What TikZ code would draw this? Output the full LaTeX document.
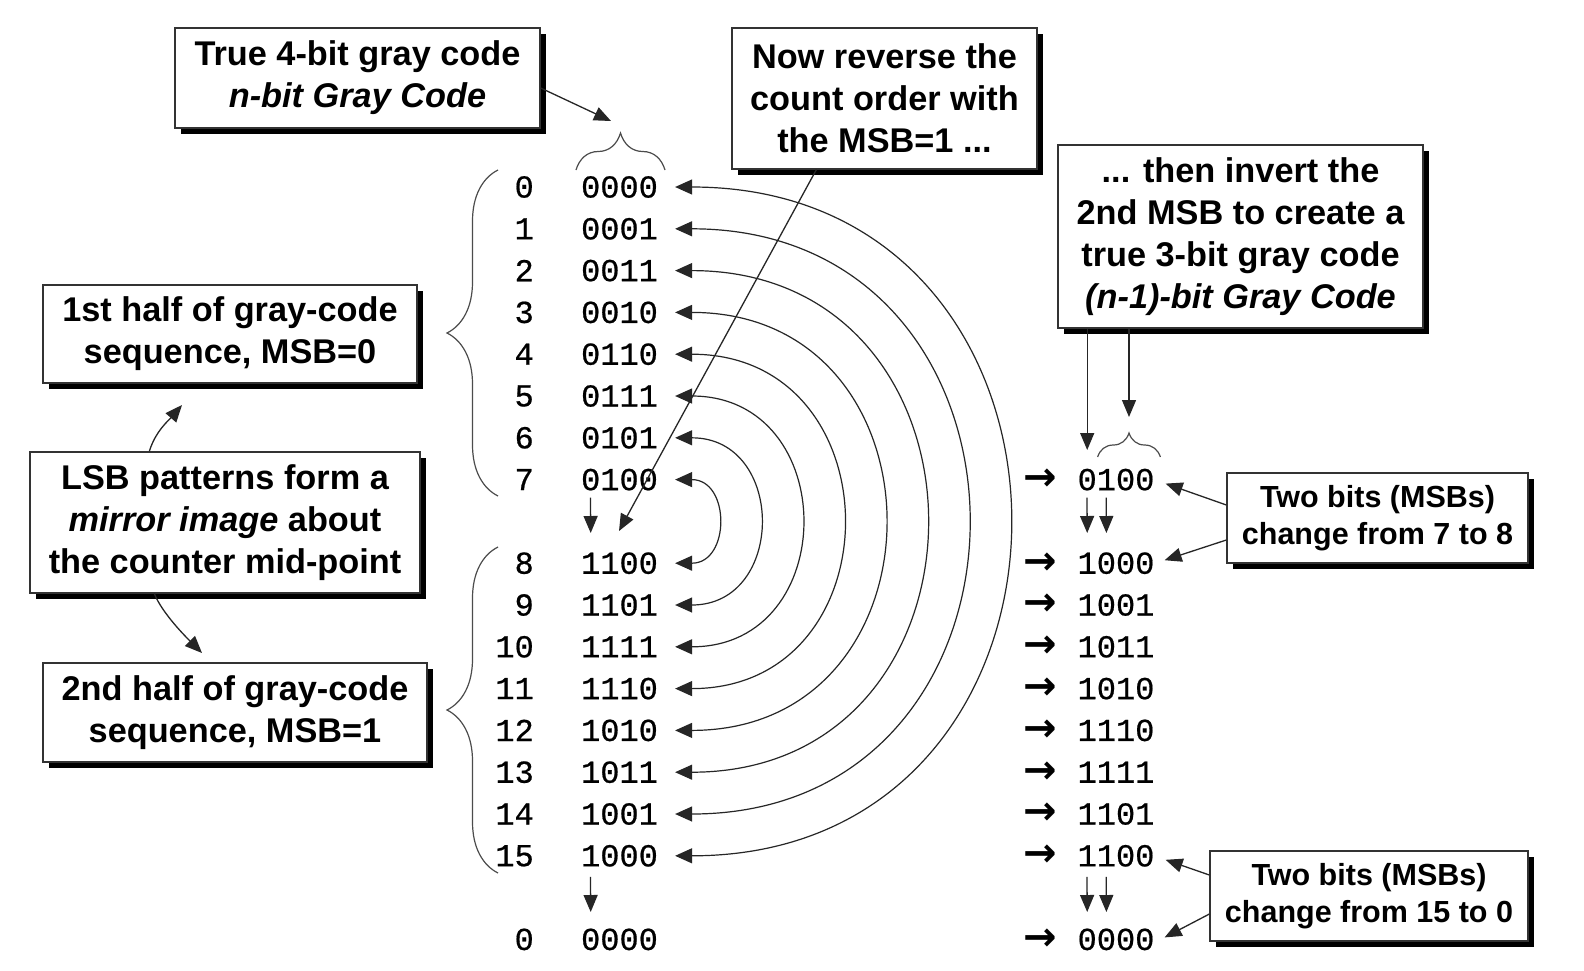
\documentclass[tikz,border=0pt]{standalone}
\usepackage{fontspec}
\setmainfont{Liberation Sans}
\newfontfamily\codefamily{Liberation Mono}[FakeBold=0.6]
\newfontfamily\symfamily{DejaVu Sans}
\usetikzlibrary{arrows.meta,decorations.pathreplacing,shadows,calc}
\newcommand\notefnt{\fontsize{34.3}{42}\selectfont\bfseries}
\newcommand\smallnotefnt{\fontsize{30.5}{37}\selectfont\bfseries}
\newcommand\codefnt{\fontsize{32}{38}\codefamily}
\newcommand\symfnt{\fontsize{40}{44}\symfamily\bfseries}
\begin{document}
\begin{tikzpicture}[x=1pt,y=-1pt,
  note/.style={draw=black!80, line width=1.3pt, fill=white, align=center, inner sep=0pt,
    font=\notefnt, text=black,
    drop shadow={shadow xshift=6pt, shadow yshift=-6pt, fill=black, opacity=1}},
  smallnote/.style={note, font=\smallnotefnt},
  code/.style={font=\codefnt, inner sep=0pt, text=black},
  idx/.style={font=\codefnt, inner sep=0pt, anchor=east, text=black},
  sym/.style={font=\symfnt, inner sep=0pt, text=black},
  arr/.style={draw=black!85, line width=1.3pt, -{Triangle[length=17pt,width=14pt]}},
  dbl/.style={draw=black!85, line width=1.2pt, {Triangle[length=17pt,width=15pt]}-{Triangle[length=17pt,width=15pt]}},
  brc/.style={draw=black!70, line width=1.2pt, decorate}
]
\fill[white] (0,0) rectangle (1584,970);
\useasboundingbox (0,0) rectangle (1584,970);

% ---- notes
\node[note, minimum width=365pt, minimum height=100pt] (tb) at (357.5,78)
  {True 4-bit gray code\\\textit{n-bit Gray Code}};
\node[note, minimum width=305pt, minimum height=141pt] (nr) at (884.5,98.5)
  {Now reverse the\\count order with\\the MSB=1 ...};
\node[note, minimum width=365pt, minimum height=183pt] (inv) at (1240.5,236.5)
  {... then invert the\\2nd MSB to create a\\true 3-bit gray code\\\textit{(n-1)-bit Gray Code}};
\node[note, minimum width=374pt, minimum height=98pt] (h1) at (230,334)
  {1st half of gray-code\\sequence, MSB=0};
\node[note, minimum width=390pt, minimum height=141pt] (lsb) at (225,522.5)
  {LSB patterns form a\\\textit{mirror image} about\\the counter mid-point};
\node[note, minimum width=384pt, minimum height=99pt] (h2) at (235,712.5)
  {2nd half of gray-code\\sequence, MSB=1};
\node[smallnote, minimum width=301pt, minimum height=90pt] (tw1) at (1377.5,518)
  {Two bits (MSBs)\\change from 7 to 8};
\node[smallnote, minimum width=318pt, minimum height=90pt] (tw2) at (1369,896)
  {Two bits (MSBs)\\change from 15 to 0};

% ---- left columns
\foreach \i/\c in {0/0000,1/0001,2/0011,3/0010,4/0110,5/0111,6/0101,7/0100,
                   8/1100,9/1101,10/1111,11/1110,12/1010,13/1011,14/1001,15/1000}{
  \pgfmathsetmacro\yy{187+41.8*(\i+(\i>7))}
  \node[idx] (n\i) at (534,\yy) {\i};
  \node[code] (c\i) at (619.5,\yy) {\c};
}
\node[idx] (nF) at (534,939.4) {0};
\node[code] (cF) at (619.5,939.4) {0000};

% ---- right column
\foreach \i/\c in {7/0100,8/1000,9/1001,10/1011,11/1010,12/1110,13/1111,14/1101,15/1100}{
  \pgfmathsetmacro\yy{187+41.8*(\i+(\i>7))}
  \node[sym] (a\i) at (1040,\yy) {→};
  \node[code] (r\i) at (1116,\yy) {\c};
}
\node[sym] (aF) at (1040,939.4) {→};
\node[code] (rF) at (1116,939.4) {0000};

% ---- mirror arcs
\foreach \k in {0,...,7}{
  \pgfmathtruncatemacro\t{7-\k}
  \pgfmathtruncatemacro\b{8+\k}
  \draw[dbl] ($(c\t.east)+(17,0)$) to[out=0,in=0,looseness=1.7] ($(c\b.east)+(17,0)$);
}

% ---- braces
\draw[brc, decoration={brace, amplitude=51pt}] (498,496) -- (498,170);
\draw[brc, decoration={brace, amplitude=51pt}] (498,873) -- (498,547);
\draw[brc, decoration={brace, amplitude=37pt}] (576,170) -- (665,170);
\draw[brc, decoration={brace, amplitude=24pt}] (1097.6,457) -- (1160.4,457);

% ---- connectors
\coordinate (tbtip) at (611,121);
\draw[arr] ($(tb.east)+(0,10)$) -- (tbtip);

\coordinate (nrtip) at (619,531);
\draw[arr] ($(nr.south west)+(85,0)$) -- (nrtip);

\coordinate (d7a) at (590.7,533);
\draw[arr] ($(c7.south west)+(9.6,7)$) -- (d7a);
\coordinate (d15a) at (590.7,912);
\draw[arr] ($(c15.south west)+(9.6,10)$) -- (d15a);

\coordinate (rd7a) at (1087.2,533);
\coordinate (rd7b) at (1106.4,533);
\draw[arr] ($(r7.south west)+(9.6,7)$) -- (rd7a);
\draw[arr] ($(r7.south west)+(28.8,7)$) -- (rd7b);
\coordinate (rd15a) at (1087.2,912);
\coordinate (rd15b) at (1106.4,912);
\draw[arr] ($(r15.south west)+(9.6,10)$) -- (rd15a);
\draw[arr] ($(r15.south west)+(28.8,10)$) -- (rd15b);

\coordinate (inva) at (1087.2,450);
\coordinate (invb) at (1129,417);
\draw[arr] (inv.south -| inva) -- (inva);
\draw[arr] (inv.south -| invb) -- (invb);

\draw[arr] ($(tw1.west)+(0,-13)$) -- ($(r7.east)+(11,4)$);
\draw[arr] ($(tw1.west)+(0,22)$) -- ($(r8.east)+(10,-3)$);
\draw[arr] ($(tw2.west)+(0,-21)$) -- ($(r15.east)+(11,4)$);
\draw[arr] ($(tw2.west)+(0,18)$) -- ($(rF.east)+(10,-2)$);

\coordinate (uptip) at (182,405);
\coordinate (dntip) at (202,653);
\draw[arr] ($(lsb.north west)+(120,0)$) .. controls +(6,-20) and +(-13,15) .. (uptip);
\draw[arr] ($(lsb.south west)+(125,0)$) .. controls +(8,20) and +(-15,-15) .. (dntip);
\end{tikzpicture}
\end{document}
